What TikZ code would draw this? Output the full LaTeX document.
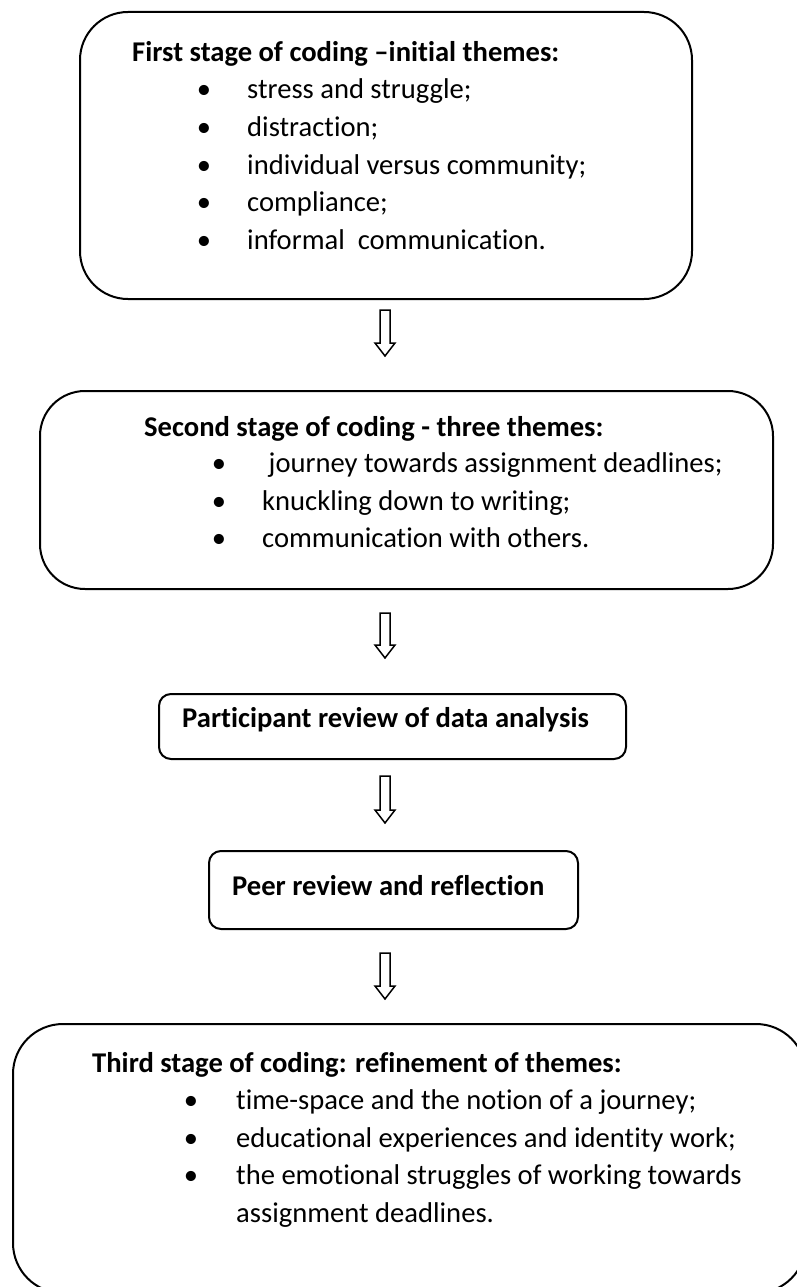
\documentclass[tikz,border=0pt]{standalone}
\usepackage{fontspec}
\setmainfont{Carlito}[Ligatures={TeX,NoCommon}]
\usetikzlibrary{calc}
\newcommand\stagefont{\fontsize{28.6}{34}\selectfont}
\tikzset{
  stagebox/.style={draw, line width=2pt, rounded corners=#1, inner sep=0pt, anchor=north west},
  txt/.style={anchor=base west, inner sep=0pt, font=\stagefont},
  ttl/.style={anchor=base west, inner sep=0pt, font=\stagefont\bfseries},
  bul/.style={anchor=base, inner sep=0pt, font=\stagefont},
  blockarrow/.style={draw, line width=1.5pt, line join=miter, fill=white}
}
\newcommand\blockarr[2]{%
  \draw[blockarrow] ($(#1)+(-5,0)$) -- ($(#2)+(-5,-13)$) -- ($(#2)+(-10,-13)$) -- (#2)
    -- ($(#2)+(10,-13)$) -- ($(#2)+(5,-13)$) -- ($(#1)+(5,0)$) -- cycle;}
\begin{document}
\begin{tikzpicture}[x=1pt,y=-1pt]
\useasboundingbox (0,0) rectangle (797,1287);
\clip (0,0) rectangle (797,1287);
\fill[white] (0,0) rectangle (797,1287);

% Box 1
\node[stagebox=48pt, minimum width=612pt, minimum height=287pt] (b1) at (79,11) {};
\node[ttl] (b1t) at (132,62) {First stage of coding –initial themes:};
\foreach \y/\t [count=\i] in {99/{stress and struggle;},136.5/{distraction;},174/{individual versus community;},211.5/{compliance;},249/{informal\ \ communication.}}{
  \node[bul] (b1d\i) at (204,\y) {\textbullet};
  \node[txt] (b1l\i) at (247,\y) {\t};
}

% Box 2
\node[stagebox=45pt, minimum width=733pt, minimum height=198pt] (b2) at (39,390) {};
\node[ttl] (b2t) at (144,436) {Second stage of coding - three themes:};
\foreach \y/\t [count=\i] in {472.5/{\ journey towards assignment deadlines;},510/{knuckling down to writing;},547.5/{communication with others.}}{
  \node[bul] (b2d\i) at (219,\y) {\textbullet};
  \node[txt] (b2l\i) at (262,\y) {\t};
}

% Box 3
\node[stagebox=12pt, minimum width=467pt, minimum height=65pt] (b3) at (158,693) {};
\node[ttl] (b3t) at (182,727) {Participant review of data analysis};

% Box 4
\node[stagebox=12pt, minimum width=369pt, minimum height=78pt] (b4) at (208,850) {};
\node[ttl] (b4t) at (232,895) {Peer review and reflection};

% Box 5
\node[stagebox=50pt, minimum width=793pt, minimum height=269pt] (b5) at (12,1023) {};
\node[ttl] (b5t) at (92,1072) {Third stage of coding: refinement of themes:};
\foreach \y/\t [count=\i] in {1109.5/{time-space and the notion of a journey;},1147/{educational experiences and identity work;},1184.5/{the emotional struggles of working towards}}{
  \node[bul] (b5d\i) at (191,\y) {\textbullet};
  \node[txt] (b5l\i) at (236,\y) {\t};
}
\node[txt] (b5l4) at (236,1222) {assignment deadlines.};

% Arrows
\coordinate (a1s) at (385,310); \coordinate (a1e) at (385,356);
\coordinate (a2s) at (385,613); \coordinate (a2e) at (385,658);
\coordinate (a3s) at (385,776); \coordinate (a3e) at (385,823);
\coordinate (a4s) at (385,953); \coordinate (a4e) at (385,999);
\blockarr{a1s}{a1e}
\blockarr{a2s}{a2e}
\blockarr{a3s}{a3e}
\blockarr{a4s}{a4e}
\end{tikzpicture}
\end{document}
